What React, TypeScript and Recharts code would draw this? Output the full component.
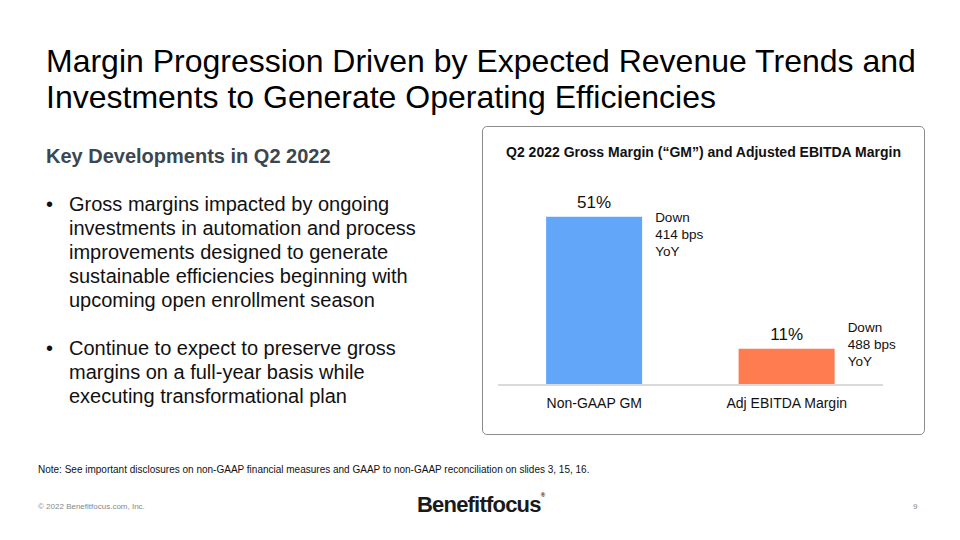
import React from "react";
import { BarChart, Bar, XAxis, YAxis, Cell, LabelList } from "recharts";

const categories = ["Non-GAAP GM", "Adj EBITDA Margin"];
const marginValues = [51, 11];
const valueLabels = ["51%", "11%"];
const changeNotes = [
  ["Down", "414 bps", "YoY"],
  ["Down", "488 bps", "YoY"],
];
const barColors = ["#62A6FA", "#FF7B50"];

const data = categories.map((name, i) => ({
  name,
  value: marginValues[i],
  label: valueLabels[i],
}));

const FONT = '"Liberation Sans", Arial, Helvetica, sans-serif';
const noteOffsets = [0, -22];

const renderLabel = (props: any) => {
  const { x, y, width, index } = props;
  const cx = x + width / 2;
  const notes = changeNotes[index] || [];
  const ny = y + noteOffsets[index];
  return (
    <g>
      <text x={cx} y={y - 9} textAnchor="middle" fontSize={17} fill="#111" fontFamily={FONT}>
        {valueLabels[index]}
      </text>
      {notes.map((t, k) => (
        <text key={k} x={x + width + 13} y={ny + 5 + k * 17} fontSize={13.5} fill="#111" fontFamily={FONT}>
          {t}
        </text>
      ))}
    </g>
  );
};

export default function App() {
  return (
    <div
      style={{
        position: "absolute",
        left: 0,
        top: 0,
        width: 960,
        height: 540,
        background: "#fff",
        fontFamily: FONT,
        color: "#000",
        overflow: "hidden",
      }}
    >
      <div
        style={{
          position: "absolute",
          left: 46,
          top: 43,
          fontSize: 32,
          lineHeight: "36px",
          color: "#000",
          whiteSpace: "nowrap",
        }}
      >
        Margin Progression Driven by Expected Revenue Trends and
        <br />
        Investments to Generate Operating Efficiencies
      </div>

      <div
        style={{
          position: "absolute",
          left: 46,
          top: 145,
          fontSize: 20,
          fontWeight: "bold",
          color: "#3A4750",
          whiteSpace: "nowrap",
        }}
      >
        Key Developments in Q2 2022
      </div>

      <div style={{ position: "absolute", left: 46, top: 192, fontSize: 20, lineHeight: "24px", color: "#111" }}>
        <div style={{ position: "relative", paddingLeft: 23, whiteSpace: "nowrap" }}>
          <span style={{ position: "absolute", left: 0 }}>•</span>
          Gross margins impacted by ongoing
          <br />
          investments in automation and process
          <br />
          improvements designed to generate
          <br />
          sustainable efficiencies beginning with
          <br />
          upcoming open enrollment season
        </div>
        <div style={{ position: "relative", paddingLeft: 23, marginTop: 24, whiteSpace: "nowrap" }}>
          <span style={{ position: "absolute", left: 0 }}>•</span>
          Continue to expect to preserve gross
          <br />
          margins on a full-year basis while
          <br />
          executing transformational plan
        </div>
      </div>

      <div
        style={{
          position: "absolute",
          left: 482,
          top: 126,
          width: 443,
          height: 309,
          border: "1px solid #8c8c8c",
          borderRadius: 5,
          boxSizing: "border-box",
        }}
      />
      <div
        style={{
          position: "absolute",
          left: 482,
          width: 443,
          top: 144,
          textAlign: "center",
          fontSize: 14,
          fontWeight: "bold",
          color: "#111",
          whiteSpace: "nowrap",
        }}
      >
        Q2 2022 Gross Margin (“GM”) and Adjusted EBITDA Margin
      </div>

      <div style={{ position: "absolute", left: 482, top: 126 }}>
        <BarChart
          width={443}
          height={309}
          data={data}
          margin={{ top: 61, right: 42, left: 16, bottom: 20 }}
          barCategoryGap="25%"
        >
          <YAxis hide domain={[0, 60]} />
          <XAxis
            dataKey="name"
            axisLine={{ stroke: "#DADADA", strokeWidth: 2 }}
            tickLine={false}
            tickSize={0}
            tickMargin={13}
            height={30}
            tick={{ fontSize: 14, fill: "#111", fontFamily: FONT }}
          />
          <Bar dataKey="value" isAnimationActive={false}>
            {data.map((d, i) => (
              <Cell key={d.name} fill={barColors[i]} />
            ))}
            <LabelList dataKey="label" content={renderLabel} />
          </Bar>
        </BarChart>
      </div>

      <div style={{ position: "absolute", left: 38, top: 464, fontSize: 10, color: "#111", whiteSpace: "nowrap" }}>
        Note: See important disclosures on non-GAAP financial measures and GAAP to non-GAAP reconciliation on slides 3, 15, 16.
      </div>
      <div style={{ position: "absolute", left: 38, top: 502, fontSize: 8, color: "#888", whiteSpace: "nowrap" }}>
        © 2022 Benefitfocus.com, Inc.
      </div>
      <div
        style={{
          position: "absolute",
          left: 417,
          top: 492,
          fontSize: 22,
          fontWeight: "bold",
          color: "#1a1a1a",
          letterSpacing: -0.8,
          whiteSpace: "nowrap",
        }}
      >
        Benefitfocus<span style={{ fontSize: 6, verticalAlign: "top" }}>®</span>
      </div>
      <div style={{ position: "absolute", left: 913, top: 502, fontSize: 8, color: "#888" }}>9</div>
    </div>
  );
}
